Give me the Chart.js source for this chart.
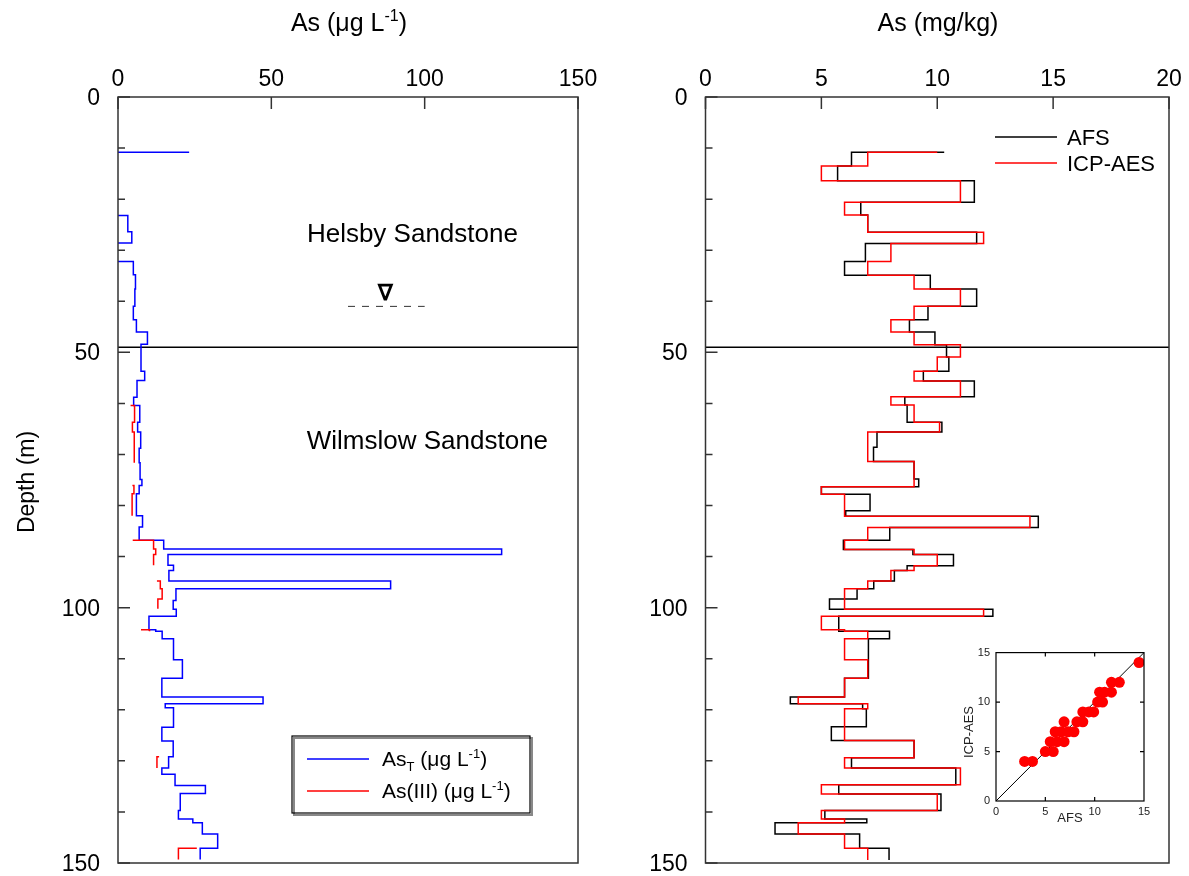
<!DOCTYPE html>
<html>
<head>
<meta charset="utf-8">
<title>As depth profiles</title>
<script src="https://cdn.jsdelivr.net/npm/chart.js@4.4.0/dist/chart.umd.min.js"></script>
<style>
  html, body { margin: 0; padding: 0; background: #fff; }
  #wrap { position: relative; width: 1189px; height: 876px; overflow: hidden; }
  #wrap canvas { position: absolute; }
</style>
</head>
<body>
<div id="wrap">
  <canvas id="leftChart" width="600" height="876" style="left:0;top:0"></canvas>
  <canvas id="rightChart" width="589" height="876" style="left:600px;top:0"></canvas>
  <canvas id="insetChart" width="215" height="195" style="left:940px;top:640px"></canvas>
</div>
<script>
const FONT = '"Liberation Sans", Arial, Helvetica, sans-serif';
Chart.defaults.font.family = FONT;
Chart.defaults.color = '#000';

// ---- data ----
// step profiles: each point = value from that depth down to the next depth (m), null = gap
const asTotDepth = [10.8, 10.8, null,
  23.2, 23.2, 26.4, 28.6, null,
  32.2, 32.2, 34.8, 37.6, 41.0, 43.6, 46.0, 48.4, 53.7, 55.5, 58.8, 60.4, 63.7, 65.6, 68.8, 71.6, 74.9, 76.1, 77.7,
  82.0, 84.2, 86.8, 88.5, 89.6, 91.7, 92.7, 94.8, 96.3, 98.6, 100.3, 101.7, 104.3, 104.6, 106.1, 110.2, 113.8,
  117.5, 118.8, 119.6, 123.4, 126.1, 129.2, 131.4, 132.6, 134.8, 136.4, 139.7, 141.4, 142.1, 144.3, 147.1, 149.3];
const asTotValue = [0, 23.2, null,
  0, 3.2, 4.5, 0, null,
  0, 5.0, 5.7, 5.5, 5.0, 6.0, 9.6, 7.5, 8.7, 6.2, 5.1, 7.1, 6.4, 7.4, 6.9, 7.2, 7.8, 6.9, 6.0,
  8.0, 6.9, 14.9, 125.1, 16.3, 18.1, 16.6, 88.9, 18.9, 18.0, 19.0, 10.1, 12.3, 14.4, 18.1, 21.0, 14.3,
  47.3, 15.4, 18.1, 14.3, 18.0, 16.5, 14.3, 18.6, 28.5, 20.3, 19.7, 24.4, 27.5, 32.5, 26.8, 26.8];

const asIIIDepth = [60.4, 60.4, 63.7, 65.6, 71.6, null,
  76.1, 76.1, 77.7, 82.0, null,
  86.8, 86.8, 88.5, 89.6, 91.7, null,
  94.8, 94.8, 96.3, 98.3, 100.2, null,
  104.3, 104.3, 104.6, null,
  129.2, 129.2, 131.4, null,
  147.1, 147.1, 149.3];
const asIIIValue = [4.1, 5.4, 4.7, 5.3, 5.3, null,
  4.7, 5.2, 4.6, 4.6, null,
  4.8, 11.6, 12.3, 11.6, 11.6, null,
  12.7, 13.8, 14.4, 13.0, 13.0, null,
  7.5, 10.3, 10.3, null,
  13.4, 12.7, 12.7, null,
  25.7, 19.7, 19.7];

const afsDepth = [10.8, 10.8, 13.5, 16.4, 20.6, 23.1, 26.5, 28.7, 32.2, 34.9, 37.6, 41.0, 43.6, 46.0, 48.5,
  50.9, 53.7, 55.6, 58.7, 60.3, 63.7, 65.6, 68.6, 71.4, 74.8, 76.3, 77.8, 81.0, 82.1, 84.3,
  86.8, 88.6, 89.6, 91.8, 92.7, 94.8, 96.3, 98.3, 100.3, 101.7, 104.6, 106.1, 113.8, 117.5, 118.8,
  119.8, 123.3, 126.0, 129.4, 131.4, 134.7, 136.5, 139.7, 141.4, 142.1, 144.3, 147.1, 149.4];
const afsValue = [10.3, 6.3, 5.7, 11.6, 6.7, 7.0, 11.7, 6.9, 6.0, 9.7, 11.7, 9.6, 8.8, 9.9, 10.4,
  10.5, 9.4, 11.6, 8.6, 8.7, 10.2, 7.4, 7.25, 9.0, 9.2, 5.0, 7.1, 6.05, 14.36, 7.95,
  5.95, 8.95, 10.7, 8.7, 8.15, 7.26, 6.54, 5.35, 12.4, 5.75, 7.94, 7.03, 6.0, 3.66, 6.78,
  6.94, 5.43, 9.0, 6.3, 10.8, 5.75, 10.16, 5.15, 6.96, 3.0, 6.65, 7.92, 7.92];

const icpDepth = [10.8, 10.8, 13.5, 16.4, 20.6, 23.1, 26.5, 28.7, 32.2, 34.9, 37.6, 41.0, 43.6, 46.0, 48.5,
  50.9, 53.7, 55.6, 58.7, 60.3, 63.7, 65.6, 71.4, 76.3, 77.8, 82.1, 84.3, 86.8, 88.6, 89.6,
  91.8, 92.7, 94.8, 96.3, 100.3, 101.7, 104.3, 104.6, 106.1, 110.2, 113.8, 117.5, 118.8, 119.8, 126.0,
  129.4, 131.4, 134.7, 136.5, 139.7, 141.4, 142.1, 144.3, 147.1, 149.4];
const icpValue = [10, 7, 5, 11, 6, 7, 12, 8, 7, 9, 11, 9, 8, 9, 11,
  10, 9, 11, 8, 9, 10.1, 7, 9, 5, 6, 14, 7, 6, 9, 10,
  9, 8, 7, 6, 12, 5, 6, 7, 6, 7, 6, 4, 7, 6, 9,
  6, 11, 5, 10, 5, 6, 4, 6, 7, 7];

// inset scatter AFS vs ICP-AES (mg/kg)
const insetAfs = [2.9, 3.7, 5.0, 5.8, 5.5, 6.2, 6.9, 6.0, 6.6, 7.3, 7.9, 6.9, 8.2, 8.8, 8.8, 9.4, 9.9,
  10.3, 10.8, 10.5, 11.0, 11.7, 11.7, 12.5, 14.5];
const insetIcp = [4, 4, 5, 5, 6, 6, 6, 7, 7, 7, 7, 8, 8, 8, 9, 9, 9,
  10, 10, 11, 11, 11, 12, 12, 14];
const oneToOne = [0, 15];

const depthRange = [0, 150];
const depthTicks = [0, 50, 100, 150];
const leftRange = [0, 150];
const leftTicks = [0, 50, 100, 150];
const rightRange = [0, 20];
const rightTicks = [0, 5, 10, 15, 20];
const insetTicks = [0, 5, 10, 15];
const boundaryDepth = [49];
const waterTableDepth = [41];
const waterTableSpan = [75, 100];

// ---- helpers ----
function steps(depths, values) {
  return depths.map((d, i) => d === null ? {x: null, y: null} : {x: values[i], y: d});
}

// parts: [text, kind] kind 0 normal, 1 superscript, -1 subscript; y = baseline
function drawRich(ctx, parts, x, y, size, align) {
  const small = Math.round(size * 0.62);
  let w = 0;
  const widths = parts.map(([t, k]) => {
    ctx.font = (k ? small : size) + 'px ' + FONT;
    const m = ctx.measureText(t).width;
    w += m;
    return m;
  });
  let cx = align === 'center' ? x - w / 2 : x;
  ctx.textAlign = 'left';
  ctx.textBaseline = 'alphabetic';
  parts.forEach(([t, k], i) => {
    ctx.font = (k ? small : size) + 'px ' + FONT;
    const dy = k === 1 ? -size * 0.4 : (k === -1 ? size * 0.22 : 0);
    ctx.fillText(t, cx, y + dy);
    cx += widths[i];
  });
}

// box, inward ticks and tick labels of a depth panel
function drawFrame(chart, xTicks) {
  const {ctx, chartArea: a, scales: {x, y}} = chart;
  ctx.save();
  ctx.strokeStyle = '#333';
  ctx.lineWidth = 1.5;
  ctx.strokeRect(a.left, a.top, a.right - a.left, a.bottom - a.top);
  ctx.beginPath();
  for (let v = depthRange[0]; v <= depthRange[1]; v += 10) {
    const py = y.getPixelForValue(v);
    ctx.moveTo(a.left, py);
    ctx.lineTo(a.left + (depthTicks.includes(v) ? 12 : 7), py);
  }
  xTicks.forEach(v => {
    const px = x.getPixelForValue(v);
    ctx.moveTo(px, a.top);
    ctx.lineTo(px, a.top + 12);
  });
  ctx.stroke();

  ctx.fillStyle = '#000';
  ctx.font = '23px ' + FONT;
  ctx.textBaseline = 'alphabetic';
  ctx.textAlign = 'right';
  depthTicks.forEach(v => ctx.fillText(String(v), a.left - 18, y.getPixelForValue(v) + 8));
  ctx.textAlign = 'center';
  xTicks.forEach(v => ctx.fillText(String(v), x.getPixelForValue(v), 86));
  ctx.restore();
}

function depthScale(width) {
  return {
    type: 'linear', reverse: true, min: depthRange[0], max: depthRange[1],
    afterFit: s => { s.width = width; },
    grid: {display: false, drawTicks: false},
    border: {display: false},
    ticks: {display: false}
  };
}

function valueScale(range) {
  return {
    type: 'linear', position: 'top', min: range[0], max: range[1],
    afterFit: s => { s.height = 97; },
    grid: {display: false, drawTicks: false},
    border: {display: false},
    ticks: {display: false}
  };
}

const baseOptions = {
  responsive: false,
  animation: false,
  events: [],
  elements: {point: {radius: 0}, line: {tension: 0, fill: false}},
  plugins: {legend: {display: false}, tooltip: {enabled: false}}
};

// ---- left panel ----
const leftDecor = {
  id: 'leftDecor',
  afterDatasetsDraw(chart) {
    const {ctx, scales: {x, y}} = chart;
    drawFrame(chart, leftTicks);
    ctx.save();
    ctx.fillStyle = '#000';
    drawRich(ctx, [['As (\u03bcg L', 0], ['-1', 1], [')', 0]], 349, 31, 25, 'center');

    ctx.save();
    ctx.translate(28, 482);
    ctx.rotate(-Math.PI / 2);
    ctx.font = '23px ' + FONT;
    ctx.textAlign = 'center';
    ctx.textBaseline = 'middle';
    ctx.fillText('Depth (m)', 0, 0);
    ctx.restore();

    ctx.font = '26px ' + FONT;
    ctx.textAlign = 'center';
    ctx.textBaseline = 'middle';
    ctx.fillText('Helsby Sandstone', x.getPixelForValue(96), y.getPixelForValue(27.0));
    ctx.fillText('Wilmslow Sandstone', x.getPixelForValue(100.9), y.getPixelForValue(67.6));
    ctx.font = 'bold 22px ' + FONT;
    ctx.fillText('\u2207', x.getPixelForValue(87.2), y.getPixelForValue(38.5));

    // legend box
    ctx.fillStyle = '#fff';
    ctx.fillRect(292, 736, 238, 77);
    ctx.strokeStyle = '#888';
    ctx.lineWidth = 2;
    ctx.strokeRect(294, 738, 238, 77);
    ctx.strokeStyle = '#000';
    ctx.lineWidth = 1.2;
    ctx.strokeRect(292, 736, 238, 77);
    ctx.lineWidth = 1.5;
    ctx.strokeStyle = '#0000ff';
    ctx.beginPath(); ctx.moveTo(307, 759); ctx.lineTo(369, 759); ctx.stroke();
    ctx.strokeStyle = '#ff0000';
    ctx.beginPath(); ctx.moveTo(307, 791); ctx.lineTo(369, 791); ctx.stroke();
    ctx.fillStyle = '#000';
    drawRich(ctx, [['As', 0], ['T', -1], [' (\u03bcg L', 0], ['-1', 1], [')', 0]], 382, 766, 21, 'left');
    drawRich(ctx, [['As(III) (\u03bcg L', 0], ['-1', 1], [')', 0]], 382, 798, 21, 'left');
    ctx.restore();
  }
};

new Chart(document.getElementById('leftChart'), {
  type: 'line',
  data: {
    datasets: [
      {label: 'As(III)', data: steps(asIIIDepth, asIIIValue), borderColor: '#ff0000', borderWidth: 1.5, stepped: 'after'},
      {label: 'AsT', data: steps(asTotDepth, asTotValue), borderColor: '#0000ff', borderWidth: 1.5, stepped: 'after'},
      {label: 'boundary', data: leftRange.map(v => ({x: v, y: boundaryDepth[0]})), borderColor: '#000', borderWidth: 1.5},
      {label: 'water table', data: waterTableSpan.map(v => ({x: v, y: waterTableDepth[0]})), borderColor: '#333', borderWidth: 1, borderDash: [7, 7]}
    ]
  },
  options: Object.assign({}, baseOptions, {
    layout: {padding: {left: 0, top: 0, right: 22, bottom: 13}},
    scales: {x: valueScale(leftRange), y: depthScale(118)}
  }),
  plugins: [leftDecor]
});

// ---- right panel ----
const rightDecor = {
  id: 'rightDecor',
  afterDatasetsDraw(chart) {
    const {ctx} = chart;
    drawFrame(chart, rightTicks);
    ctx.save();
    ctx.fillStyle = '#000';
    drawRich(ctx, [['As (mg/kg)', 0]], 338, 31, 25, 'center');
    ctx.lineWidth = 1.5;
    ctx.strokeStyle = '#000';
    ctx.beginPath(); ctx.moveTo(395, 137); ctx.lineTo(457, 137); ctx.stroke();
    ctx.strokeStyle = '#ff0000';
    ctx.beginPath(); ctx.moveTo(395, 163); ctx.lineTo(457, 163); ctx.stroke();
    drawRich(ctx, [['AFS', 0]], 467, 145, 22, 'left');
    drawRich(ctx, [['ICP-AES', 0]], 467, 171, 22, 'left');
    ctx.restore();
  }
};

new Chart(document.getElementById('rightChart'), {
  type: 'line',
  data: {
    datasets: [
      {label: 'ICP-AES', data: steps(icpDepth, icpValue), borderColor: '#ff0000', borderWidth: 1.5, stepped: 'after'},
      {label: 'AFS', data: steps(afsDepth, afsValue), borderColor: '#000', borderWidth: 1.5, stepped: 'after'},
      {label: 'boundary', data: rightRange.map(v => ({x: v, y: boundaryDepth[0]})), borderColor: '#000', borderWidth: 1.5}
    ]
  },
  options: Object.assign({}, baseOptions, {
    layout: {padding: {left: 0, top: 0, right: 20, bottom: 13}},
    scales: {x: valueScale(rightRange), y: depthScale(105.5)}
  }),
  plugins: [rightDecor]
});

// ---- inset scatter ----
const insetDecor = {
  id: 'insetDecor',
  afterDatasetsDraw(chart) {
    const {ctx, chartArea: a, scales: {x, y}} = chart;
    ctx.save();
    ctx.strokeStyle = '#000';
    ctx.lineWidth = 1.2;
    ctx.strokeRect(a.left, a.top, a.right - a.left, a.bottom - a.top);
    ctx.beginPath();
    insetTicks.slice(1, -1).forEach(v => {
      const px = x.getPixelForValue(v), py = y.getPixelForValue(v);
      ctx.moveTo(px, a.bottom); ctx.lineTo(px, a.bottom - 4);
      ctx.moveTo(px, a.top); ctx.lineTo(px, a.top + 4);
      ctx.moveTo(a.left, py); ctx.lineTo(a.left + 4, py);
      ctx.moveTo(a.right, py); ctx.lineTo(a.right - 4, py);
    });
    ctx.stroke();
    ctx.fillStyle = '#222';
    ctx.font = '13px ' + FONT;
    ctx.textAlign = 'center';
    ctx.textBaseline = 'middle';
    ctx.fillText('AFS', 130, 178);
    ctx.translate(29, 92);
    ctx.rotate(-Math.PI / 2);
    ctx.fillText('ICP-AES', 0, 0);
    ctx.restore();
  }
};

const insetScale = (pos, isX) => ({
  type: 'linear', position: pos, min: insetTicks[0], max: insetTicks[insetTicks.length - 1],
  afterFit: s => { if (isX) s.height = 34; else s.width = 56; },
  afterBuildTicks: s => { s.ticks = insetTicks.map(v => ({value: v})); },
  grid: {display: false, drawTicks: false},
  border: {display: false},
  ticks: {padding: isX ? 4 : 6, maxRotation: 0, autoSkip: false, font: {size: 11}, color: '#222'}
});

new Chart(document.getElementById('insetChart'), {
  type: 'scatter',
  data: {
    datasets: [
      {label: 'samples', data: insetAfs.map((v, i) => ({x: v, y: insetIcp[i]})),
        pointRadius: 5.5, backgroundColor: '#ff0000', borderColor: '#ff0000', borderWidth: 0},
      {label: '1:1', data: oneToOne.map(v => ({x: v, y: v})), showLine: true, pointRadius: 0,
        borderColor: '#000', borderWidth: 1}
    ]
  },
  options: Object.assign({}, baseOptions, {
    layout: {padding: {left: 0, top: 12, right: 11, bottom: 0}},
    scales: {x: insetScale('bottom', true), y: insetScale('left', false)}
  }),
  plugins: [insetDecor]
});
</script>
</body>
</html>
